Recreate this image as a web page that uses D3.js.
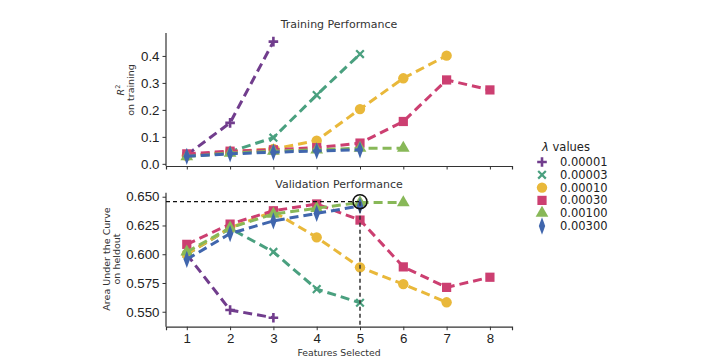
<!DOCTYPE html>
<html>
<head>
<meta charset="utf-8">
<script src="https://cdn.jsdelivr.net/npm/d3@7"></script>
<style>
  body { margin: 0; background: #fff; }
  svg { font-family: "DejaVu Sans", sans-serif; }
</style>
</head>
<body>
<div id="plot"></div>
<script>
// Data
const features = [1, 2, 3, 4, 5, 6, 7, 8];
const lambdas = ["0.00001", "0.00003", "0.00010", "0.00030", "0.00100", "0.00300"];
const colors = ["#713d8d", "#4aa07f", "#e9b83a", "#cc3f71", "#88b858", "#4066ad"];
const shapes = ["plus", "cross", "circle", "square", "triangle", "diamond"];

// R^2 on training, one array per lambda (index = features - 1)
const trainR2 = [
  [0.033, 0.152, 0.453],
  [0.030, 0.045, 0.097, 0.255, 0.407],
  [0.030, 0.045, 0.055, 0.086, 0.203, 0.317, 0.401],
  [0.037, 0.047, 0.052, 0.060, 0.077, 0.157, 0.311, 0.274],
  [0.027, 0.040, 0.047, 0.052, 0.058, 0.058],
  [0.028, 0.037, 0.043, 0.048, 0.052]
];

// AUC on heldout
const validAUC = [
  [0.600, 0.5515, 0.5448],
  [0.600, 0.6225, 0.602, 0.5697, 0.5578],
  [0.600, 0.623, 0.637, 0.6147, 0.5886, 0.574, 0.5582],
  [0.6086, 0.6262, 0.6378, 0.6437, 0.6297, 0.589, 0.5712, 0.580],
  [0.602, 0.623, 0.635, 0.640, 0.645, 0.645],
  [0.5955, 0.618, 0.629, 0.6355, 0.642]
];

const bestFeatures = 5;
const bestAUC = 0.6457;

const trainTicks = [0.0, 0.1, 0.2, 0.3, 0.4];
const validTicks = [0.550, 0.575, 0.600, 0.625, 0.650];

const width = 717, height = 360;
const svg = d3.select("#plot").append("svg")
  .attr("width", width)
  .attr("height", height);

const x = d3.scaleLinear().domain([0.52, 8.51]).range([166, 512]);
const yTop = d3.scaleLinear().domain([-0.008, 0.485]).range([166, 33]);
const yBot = d3.scaleLinear().domain([0.537, 0.6535]).range([326.7, 192.7]);

const sym = {
  circle: d3.symbolCircle, square: d3.symbolSquare,
  triangle: d3.symbolTriangle, diamond: d3.symbolDiamond
};
const symSize = { circle: 85, square: 85, triangle: 70, diamond: 55 };

function drawMarker(g, shape, color, cx, cy) {
  if (shape === "plus" || shape === "cross") {
    const s = shape === "plus" ? 4.8 : 5.4;
    g.append("path")
      .attr("transform", `translate(${cx},${cy})` + (shape === "cross" ? " rotate(45)" : ""))
      .attr("d", `M${-s},0H${s}M0,${-s}V${s}`)
      .attr("fill", "none").attr("stroke", color)
      .attr("stroke-width", shape === "plus" ? 2.6 : 2.2);
    return;
  }
  g.append("path")
    .attr("transform", `translate(${cx},${cy})` + (shape === "diamond" ? " scale(0.8,1.25)" : ""))
    .attr("d", d3.symbol().type(sym[shape]).size(symSize[shape])())
    .attr("fill", color);
}

function panel(series, y, ticks, fmt, showXLabels) {
  const g = svg.append("g");

  const yAxis = d3.axisLeft(y).tickValues(ticks).tickFormat(fmt).tickSize(3.5).tickPadding(3);
  const ga = g.append("g").attr("transform", `translate(166,0)`).call(yAxis);
  ga.select(".domain").attr("d", `M-0,${y.range()[0]}V${y.range()[1]}`);

  const xAxis = d3.axisBottom(x).tickValues(features).tickSize(3.5).tickPadding(3)
    .tickFormat(showXLabels ? d3.format("d") : "");
  const gx = g.append("g").attr("transform", `translate(0,${y.range()[0]})`).call(xAxis);

  [ga, gx].forEach(a => {
    a.selectAll(".domain").attr("stroke", "#333").attr("stroke-width", 1.2);
    a.selectAll(".tick line").attr("stroke", "#333").attr("stroke-width", 1);
    a.selectAll(".tick text").attr("fill", "#222").style("font-size", "13.3px");
  });

  const line = d3.line().x((d, i) => x(features[i])).y(d => y(d));
  series.forEach((vals, k) => {
    g.append("path")
      .datum(vals)
      .attr("d", line)
      .attr("fill", "none")
      .attr("stroke", colors[k])
      .attr("stroke-width", 3)
      .attr("stroke-dasharray", "9,5");
    vals.forEach((v, i) => drawMarker(g, shapes[k], colors[k], x(features[i]), y(v)));
  });
  return g;
}

panel(trainR2, yTop, trainTicks, d3.format(".1f"), false);
const bottom = panel(validAUC, yBot, validTicks, d3.format(".3f"), true);

// best-point marker lines
bottom.append("line")
  .attr("x1", x.range()[0]).attr("x2", x(bestFeatures))
  .attr("y1", yBot(bestAUC)).attr("y2", yBot(bestAUC))
  .attr("stroke", "#111").attr("stroke-width", 1.3).attr("stroke-dasharray", "4,3");
bottom.append("line")
  .attr("x1", x(bestFeatures)).attr("x2", x(bestFeatures))
  .attr("y1", yBot(bestAUC)).attr("y2", yBot.range()[0])
  .attr("stroke", "#333").attr("stroke-width", 1.5).attr("stroke-dasharray", "4,3");
bottom.append("circle")
  .attr("cx", x(bestFeatures)).attr("cy", yBot(bestAUC)).attr("r", 7)
  .attr("fill", "none").attr("stroke", "#111").attr("stroke-width", 1.5);

// titles and labels
svg.append("text").attr("x", 339).attr("y", 28).attr("text-anchor", "middle")
  .style("font-size", "11px").attr("fill", "#333").text("Training Performance");
svg.append("text").attr("x", 339).attr("y", 188).attr("text-anchor", "middle")
  .style("font-size", "11px").attr("fill", "#333").text("Validation Performance");
svg.append("text").attr("x", 339).attr("y", 356).attr("text-anchor", "middle")
  .style("font-size", "9.3px").attr("fill", "#333").text("Features Selected");

const yl1 = svg.append("text").attr("transform", "translate(124,90) rotate(-90)")
  .attr("text-anchor", "middle").style("font-size", "9.5px").attr("fill", "#333");
yl1.append("tspan").style("font-style", "italic").text("R");
yl1.append("tspan").attr("dy", -4).style("font-size", "6.5px").text("2");
svg.append("text").attr("transform", "translate(134,90) rotate(-90)")
  .attr("text-anchor", "middle").style("font-size", "9.5px").attr("fill", "#333").text("on training");

svg.append("text").attr("transform", "translate(110,259) rotate(-90)")
  .attr("text-anchor", "middle").style("font-size", "9.5px").attr("fill", "#333").text("Area Under the Curve");
svg.append("text").attr("transform", "translate(120,259) rotate(-90)")
  .attr("text-anchor", "middle").style("font-size", "9.5px").attr("fill", "#333").text("on heldout");

// legend
const lg = svg.append("g");
const lt = lg.append("text").attr("x", 566).attr("y", 151).attr("text-anchor", "middle")
  .style("font-size", "11.5px").attr("fill", "#222");
lt.append("tspan").style("font-style", "italic").text("λ");
lt.append("tspan").text(" values");
lambdas.forEach((l, k) => {
  const cy = 162 + k * 12.8;
  drawMarker(lg, shapes[k], colors[k], 542, cy);
  lg.append("text").attr("x", 560).attr("y", cy + 4)
    .style("font-size", "11.5px").attr("fill", "#222").text(l);
});
</script>
</body>
</html>
